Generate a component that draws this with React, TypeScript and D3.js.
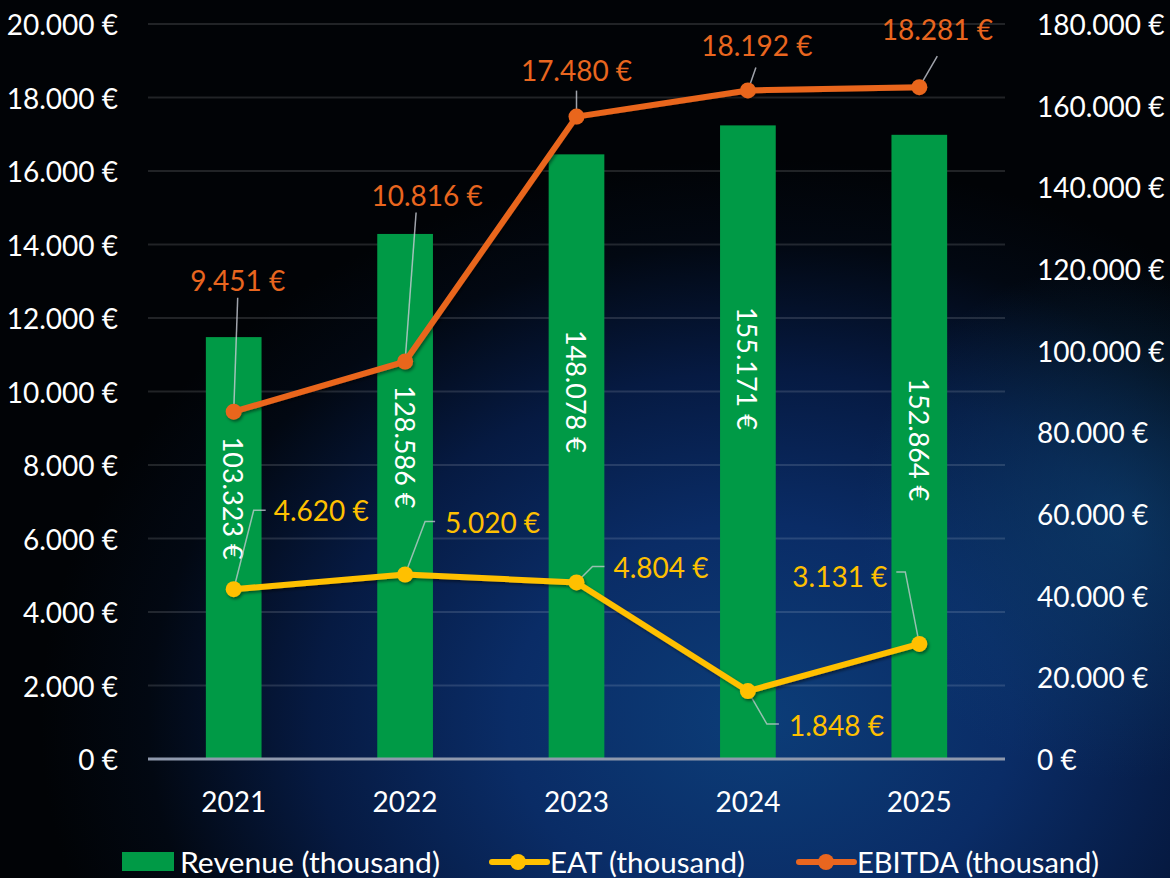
import * as d3 from "d3";
import React from "react";

const years = ["2021", "2022", "2023", "2024", "2025"];
const revenue = [103323, 128586, 148078, 155171, 152864];
const eat = [4620, 5020, 4804, 1848, 3131];
const ebitda = [9451, 10816, 17480, 18192, 18281];
const leftTicks = [0, 2000, 4000, 6000, 8000, 10000, 12000, 14000, 16000, 18000, 20000];
const rightTicks = [0, 20000, 40000, 60000, 80000, 100000, 120000, 140000, 160000, 180000];

// label placement (pixels), tuned to the reference
const revLabelOffset = [161, 213, 237, 243, 305]; // label centre below bar top
const ebitdaLabel = [[4, -132], [22, -167], [0, -47], [9, -45], [18, -58]];
const ebitdaLeader = [[4, -114], [11, -149], [0, -26], [8, -23], [18, -31]];
const eatLabel = [[40, -79], [40, -53], [37, -15], [41, 34], [-32, -68]];
const eatElbow = [[20, -79], [20, -53], [16, -16], [19, 33], [-14, -72]];
const eatTail = [[32, -79], [30, -53], [28, -16], [31, 33], [-23, -72]];

const W = 1170, H = 878;
const M = { left: 148, right: 1005, top: 24, bottom: 759 };
const FONT = "Lato, 'Open Sans', sans-serif";
const GREEN = "#009a46";
const ORANGE = "#e9661f";
const YELLOW = "#ffc000";

const fmt = (v: number) => d3.format(",")(v).replace(/,/g, ".") + " €";

export default function App() {
  const x = d3.scaleBand().domain(years).range([M.left, M.right]).padding(0);
  const yL = d3.scaleLinear().domain([0, 20000]).range([M.bottom, M.top]);
  const yR = d3.scaleLinear().domain([0, 180000]).range([M.bottom, M.top]);
  const cx = (i: number) => (x(years[i]) as number) + x.bandwidth() / 2;
  const barW = x.bandwidth() * 0.325;

  const line = d3.line<number>().x((_d, i) => cx(i)).y((d) => yL(d));

  return (
    <svg width={W} height={H} style={{ display: "block", position: "absolute", left: 0, top: 0 }}>
      <defs>
        <radialGradient id="glow" cx="760" cy="720" r="720" gradientUnits="userSpaceOnUse"
          gradientTransform="translate(760 720) scale(1 0.78) translate(-760 -720)">
          <stop offset="0%" stopColor="#0c3d78" />
          <stop offset="35%" stopColor="#0a2c66" />
          <stop offset="62%" stopColor="#061a42" />
          <stop offset="85%" stopColor="#020812" />
          <stop offset="100%" stopColor="#010306" />
        </radialGradient>
        <radialGradient id="glow2" cx="1120" cy="520" r="260" gradientUnits="userSpaceOnUse">
          <stop offset="0%" stopColor="#0f4a7a" stopOpacity="0.55" />
          <stop offset="100%" stopColor="#0f4a7a" stopOpacity="0" />
        </radialGradient>
        <filter id="shadow" x="-10%" y="-10%" width="120%" height="120%">
          <feDropShadow dx="1.5" dy="2" stdDeviation="1.5" floodColor="#000" floodOpacity="0.45" />
        </filter>
      </defs>
      <rect width={W} height={H} fill="#010306" />
      <rect width={W} height={H} fill="url(#glow)" />
      <rect width={W} height={H} fill="url(#glow2)" />

      {/* gridlines */}
      {leftTicks.slice(1).map((t) => (
        <line key={t} x1={M.left} x2={M.right} y1={yL(t)} y2={yL(t)}
          stroke="#ffffff" strokeOpacity={0.13} strokeWidth={2} />
      ))}

      {/* bars */}
      {revenue.map((v, i) => (
        <rect key={i} x={cx(i) - barW / 2} y={yR(v)} width={barW} height={M.bottom - yR(v)} fill={GREEN} />
      ))}

      <line x1={M.left} x2={M.right} y1={M.bottom} y2={M.bottom} stroke="#8f99ad" strokeWidth={3} />

      {/* bar labels */}
      {revenue.map((v, i) => (
        <text key={i} transform={`translate(${cx(i)},${yR(v) + revLabelOffset[i]}) rotate(90)`}
          textAnchor="middle" dominantBaseline="central" fill="#fff" fontSize={27} fontFamily={FONT}>
          {fmt(v)}
        </text>
      ))}

      {/* leader lines */}
      {ebitda.map((v, i) => (
        <line key={"el" + i} x1={cx(i)} y1={yL(v)} x2={cx(i) + ebitdaLeader[i][0]} y2={yL(v) + ebitdaLeader[i][1]}
          stroke="#c8ccd4" strokeOpacity={0.8} strokeWidth={1.5} />
      ))}
      {eat.map((v, i) => (
        <polyline key={"al" + i} fill="none" stroke="#c8ccd4" strokeOpacity={0.75} strokeWidth={1.5}
          points={`${cx(i)},${yL(v)} ${cx(i) + eatElbow[i][0]},${yL(v) + eatElbow[i][1]} ${cx(i) + eatTail[i][0]},${yL(v) + eatTail[i][1]}`} />
      ))}

      {/* lines */}
      <g filter="url(#shadow)">
        <path d={line(eat) || ""} fill="none" stroke={YELLOW} strokeWidth={6} strokeLinejoin="round" />
        {eat.map((v, i) => <circle key={i} cx={cx(i)} cy={yL(v)} r={8} fill={YELLOW} />)}
        <path d={line(ebitda) || ""} fill="none" stroke={ORANGE} strokeWidth={6} strokeLinejoin="round" />
        {ebitda.map((v, i) => <circle key={i} cx={cx(i)} cy={yL(v)} r={8} fill={ORANGE} />)}
      </g>

      {/* line labels */}
      {ebitda.map((v, i) => (
        <text key={"et" + i} x={cx(i) + ebitdaLabel[i][0]} y={yL(v) + ebitdaLabel[i][1]} textAnchor="middle"
          dominantBaseline="central" fill={ORANGE} fontSize={28} fontFamily={FONT}>{fmt(v)}</text>
      ))}
      {eat.map((v, i) => (
        <text key={"at" + i} x={cx(i) + eatLabel[i][0]} y={yL(v) + eatLabel[i][1]} textAnchor={eatLabel[i][0] < 0 ? "end" : "start"}
          dominantBaseline="central" fill={YELLOW} fontSize={28} fontFamily={FONT}>{fmt(v)}</text>
      ))}

      {/* axes */}
      {leftTicks.map((t) => (
        <text key={t} x={118} y={yL(t)} textAnchor="end" dominantBaseline="central" fill="#fff" fontSize={28} fontFamily={FONT}>{fmt(t)}</text>
      ))}
      {rightTicks.map((t) => (
        <text key={t} x={1037} y={yR(t)} textAnchor="start" dominantBaseline="central" fill="#fff" fontSize={28} fontFamily={FONT}>{fmt(t)}</text>
      ))}
      {years.map((yr, i) => (
        <text key={yr} x={cx(i)} y={801} textAnchor="middle" dominantBaseline="central" fill="#fff" fontSize={28} fontFamily={FONT}>{yr}</text>
      ))}

      {/* legend */}
      <g fontFamily={FONT} fontSize={28} fill="#fff">
        <rect x={122} y={852} width={52} height={19} fill={GREEN} />
        <text x={180} y={862} dominantBaseline="central" textLength={260} lengthAdjust="spacingAndGlyphs">Revenue (thousand)</text>
        <line x1={492} x2={547} y1={862} y2={862} stroke={YELLOW} strokeWidth={6} strokeLinecap="round" />
        <circle cx={518} cy={862} r={8} fill={YELLOW} />
        <text x={550} y={862} dominantBaseline="central" textLength={195} lengthAdjust="spacingAndGlyphs">EAT (thousand)</text>
        <line x1={799} x2={854} y1={862} y2={862} stroke={ORANGE} strokeWidth={6} strokeLinecap="round" />
        <circle cx={826} cy={862} r={8} fill={ORANGE} />
        <text x={857} y={862} dominantBaseline="central" textLength={242} lengthAdjust="spacingAndGlyphs">EBITDA (thousand)</text>
      </g>
    </svg>
  );
}
